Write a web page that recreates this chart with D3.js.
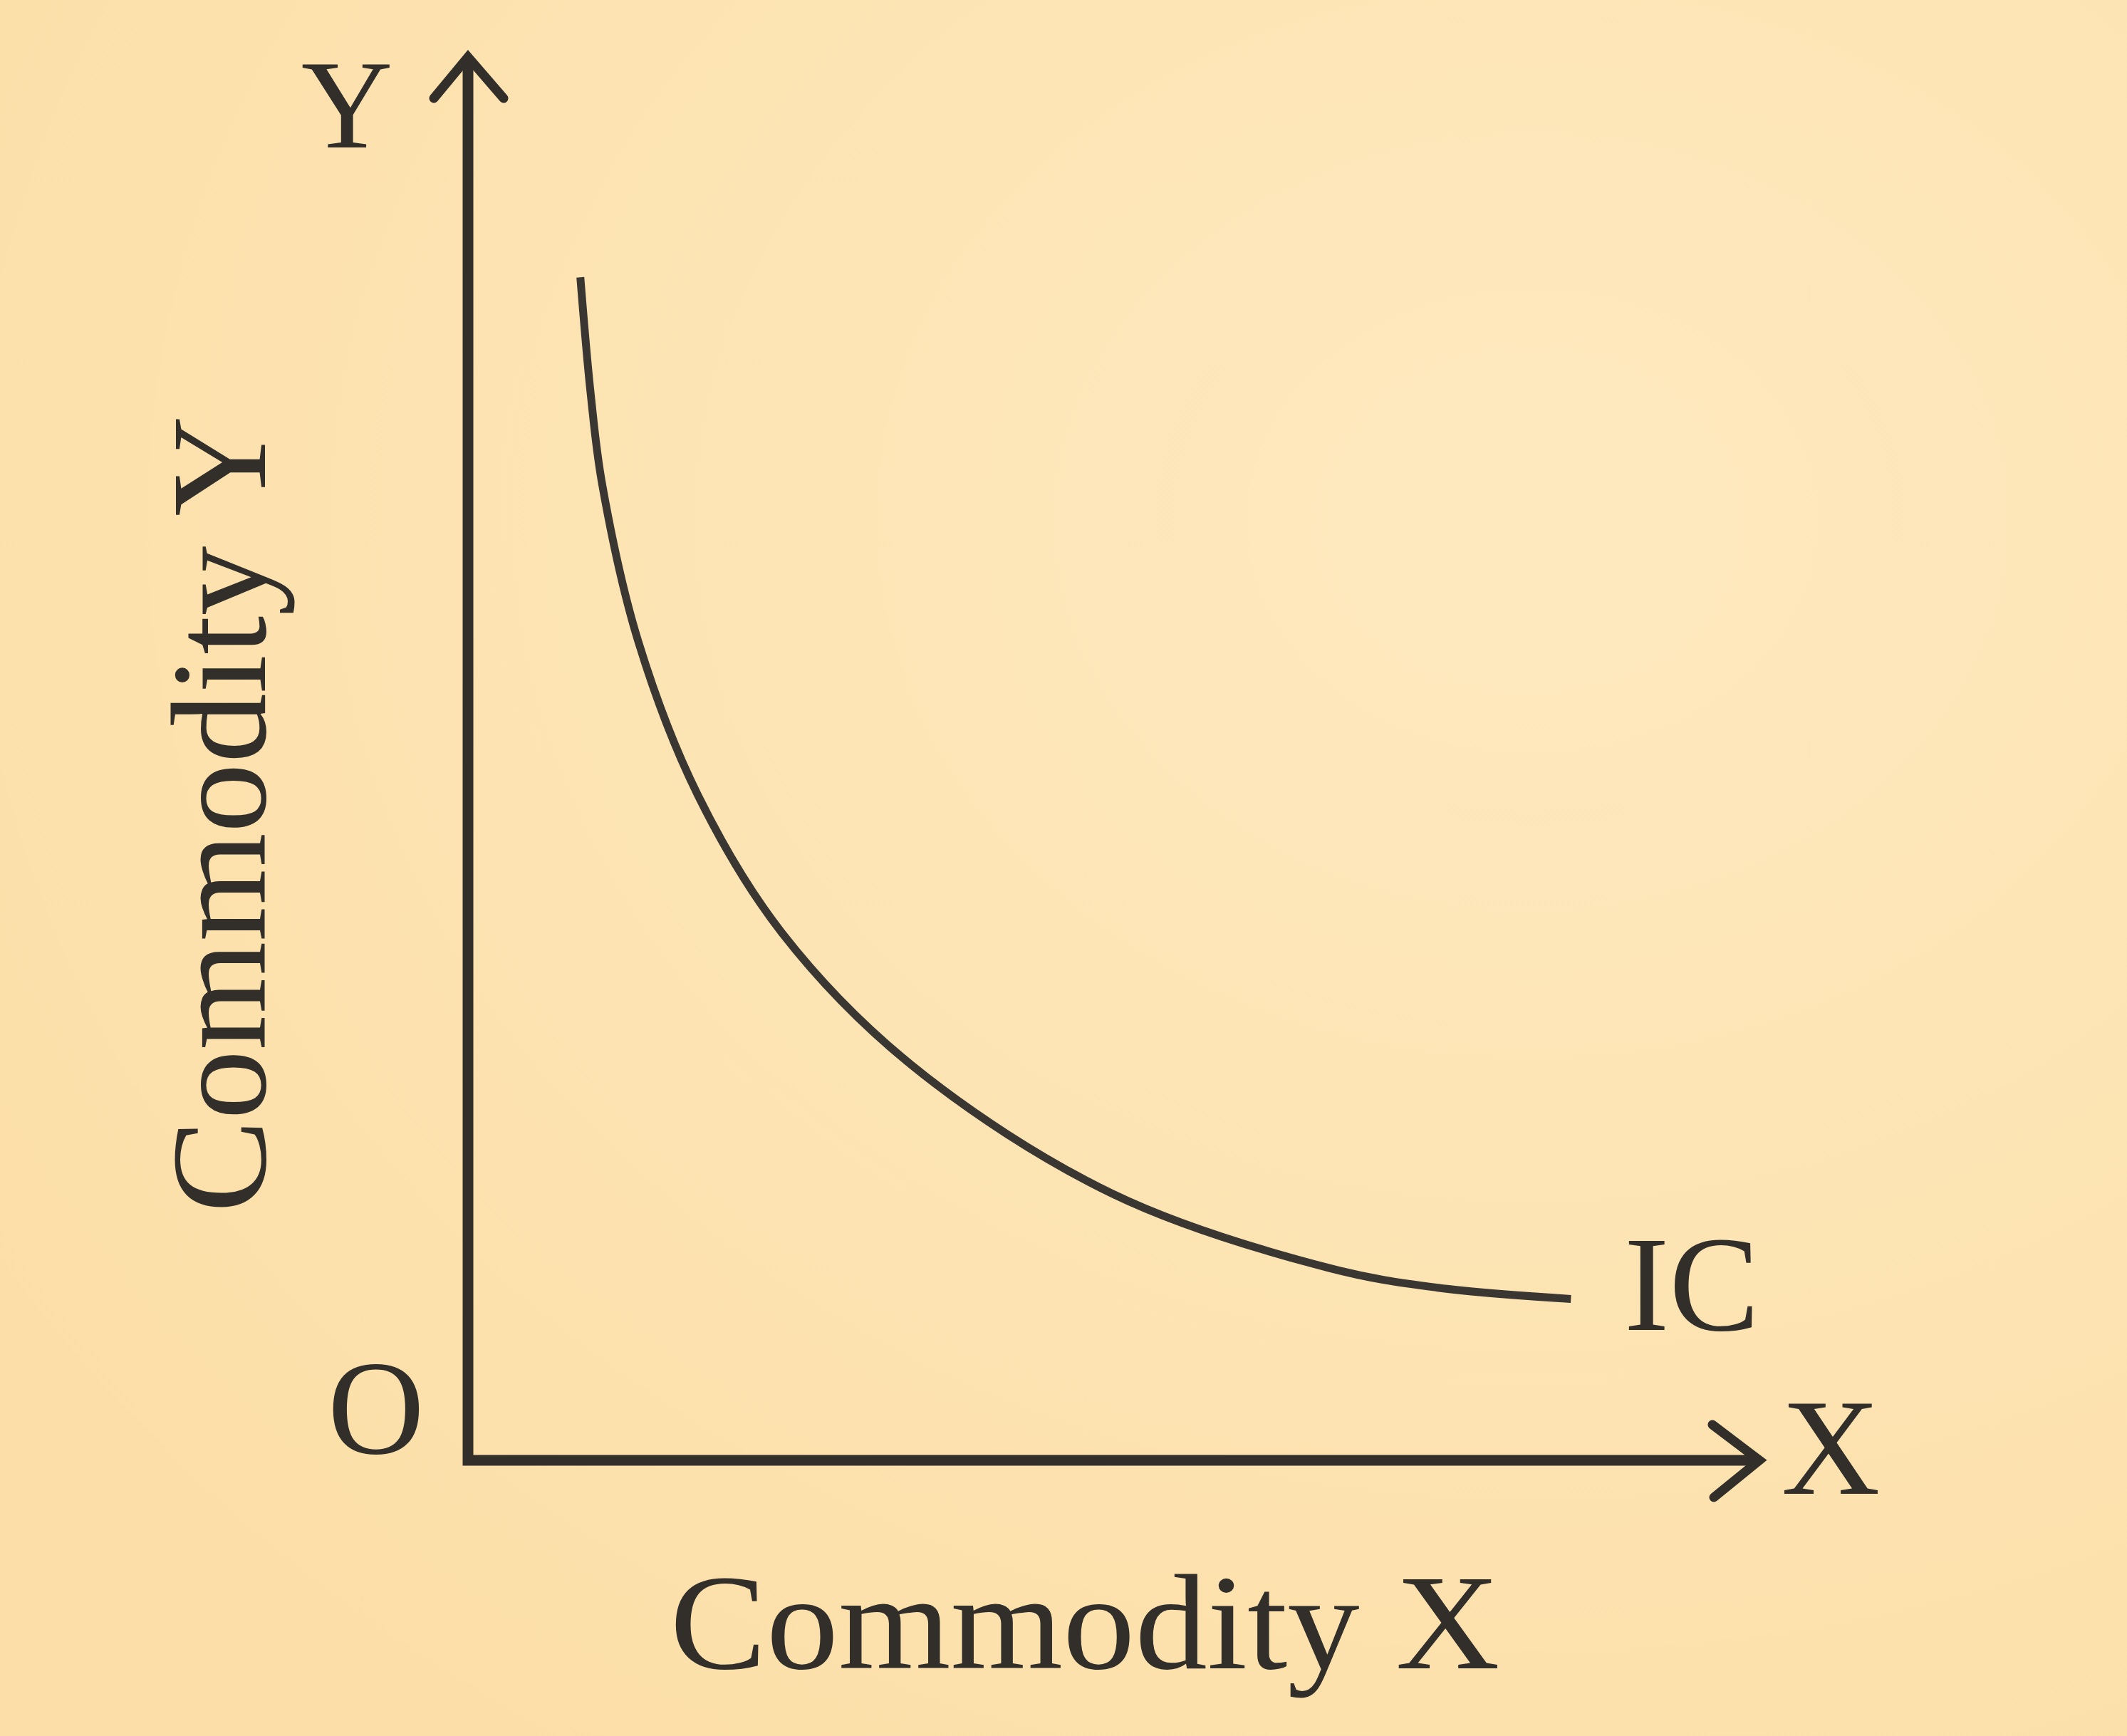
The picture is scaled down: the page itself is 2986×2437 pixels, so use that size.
<!DOCTYPE html>
<html>
<head>
<meta charset="utf-8">
<script src="https://cdn.jsdelivr.net/npm/d3@7"></script>
<style>
  html, body { margin: 0; padding: 0; background: #fde3ae; }
  svg { display: block; }
  text { font-family: "Liberation Serif", Tinos, "Times New Roman", Times, serif; font-weight: 400; }
</style>
</head>
<body>
<script>
// ---- Data ----
// Indifference curve IC, in chart units (0-100 on each axis)
const curveX = [8.7, 9.5, 10.4, 13.2, 17.8, 24.3, 34.3, 49.9, 66.7, 75.1, 85.4];
const curveY = [84.3, 76.0, 69.5, 58.3, 47.4, 37.6, 28.2, 19.0, 13.7, 12.3, 11.5];
const axisMax = [100, 100];
const curveLabel = "IC";
const xAxisLetter = "X";
const yAxisLetter = "Y";
const originLabel = "O";
const xTitle = "Commodity X";
const yTitle = "Commodity Y";

// ---- Layout ----
const W = 2986, H = 2437;
const ink = "#322f2b";

const svg = d3.select("body").append("svg")
  .attr("width", W).attr("height", H);

const defs = svg.append("defs");
const grad = defs.append("radialGradient").attr("id", "paper")
  .attr("cx", "72%").attr("cy", "30%").attr("r", "85%");
grad.append("stop").attr("offset", "0%").attr("stop-color", "#fee9bf");
grad.append("stop").attr("offset", "100%").attr("stop-color", "#fcdfa8");
svg.append("rect").attr("width", W).attr("height", H).attr("fill", "url(#paper)");

const x = d3.scaleLinear().domain([0, axisMax[0]]).range([657, 2470]);
const y = d3.scaleLinear().domain([0, axisMax[1]]).range([2050, 80]);

const g = svg.append("g");

// Axes (L-shape)
g.append("path")
  .attr("d", d3.line()([[x(0), y(axisMax[1])], [x(0), y(0)], [x(axisMax[0]), y(0)]]))
  .attr("fill", "none").attr("stroke", ink).attr("stroke-width", 15)
  .attr("stroke-linejoin", "miter").attr("stroke-linecap", "butt");

// Arrowheads
g.append("path")
  .attr("d", d3.line()([[x(0) - 48, y(axisMax[1]) + 58], [x(0), y(axisMax[1])], [x(0) + 50, y(axisMax[1]) + 58]]))
  .attr("fill", "none").attr("stroke", ink).attr("stroke-width", 13)
  .attr("stroke-linejoin", "miter").attr("stroke-linecap", "round");
g.append("path")
  .attr("d", d3.line()([[x(axisMax[0]) - 66, y(0) - 50], [x(axisMax[0]), y(0)], [x(axisMax[0]) - 64, y(0) + 52]]))
  .attr("fill", "none").attr("stroke", ink).attr("stroke-width", 13)
  .attr("stroke-linejoin", "miter").attr("stroke-linecap", "round");

// Indifference curve
const pts = curveX.map((v, i) => [v, curveY[i]]);
g.append("path")
  .datum(pts)
  .attr("d", d3.line().x(d => x(d[0])).y(d => y(d[1])).curve(d3.curveCatmullRom.alpha(0.5)))
  .attr("fill", "none").attr("stroke", "#3a3733").attr("stroke-width", 11)
  .attr("stroke-linecap", "butt");

// Labels
const txt = (s, px, py, size, anchor) => g.append("text")
  .attr("x", px).attr("y", py).attr("font-size", size)
  .attr("fill", ink).attr("text-anchor", anchor || "middle").text(s);

txt(yAxisLetter, 487, 207, 178);
txt(originLabel, 528, 2040, 188);
txt(curveLabel, 2280, 1867, 190, "start");
txt(xAxisLetter, 2570, 2097, 192);

txt(xTitle, 1523, 2342, 190)
  .attr("textLength", 1165).attr("lengthAdjust", "spacingAndGlyphs");

g.append("text")
  .attr("transform", "translate(372,1143) rotate(-90)")
  .attr("font-size", 190)
  .attr("fill", ink).attr("text-anchor", "middle")
  .attr("textLength", 1119).attr("lengthAdjust", "spacingAndGlyphs")
  .text(yTitle);
</script>
</body>
</html>
